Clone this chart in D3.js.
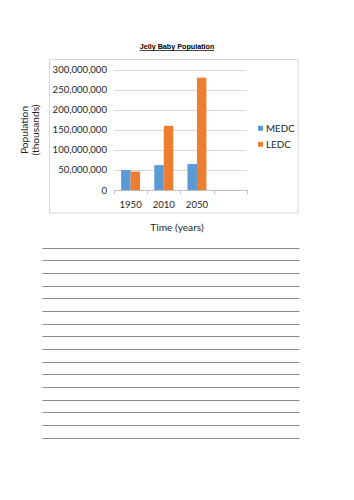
<!DOCTYPE html>
<html>
<head>
<meta charset="utf-8">
<script src="https://cdn.jsdelivr.net/npm/d3@7"></script>
<style>
  html, body { margin: 0; padding: 0; background: #fff; }
  svg { display: block; }
</style>
</head>
<body>
<svg id="chart" width="354" height="500"></svg>
<script>
// ---- data ----
const title = "Jelly Baby Population";
const categories = ["1950", "2010", "2050", ""];
const seriesNames = ["MEDC", "LEDC"];
const medc = [50000000, 62000000, 65000000, null];
const ledc = [46000000, 160000000, 280000000, null];
const yTicks = [0, 50000000, 100000000, 150000000, 200000000, 250000000, 300000000];
const yTitle = ["Population", "(thousands)"];
const xTitle = "Time (years)";
const writingLineCount = 16;

// ---- layout ----
const svg = d3.select("#chart");
const colors = { MEDC: "#5B9BD5", LEDC: "#ED7D31" };
const font = "Lato, 'Open Sans', sans-serif";
const textColor = "#262626";

const plot = { left: 114, right: 246.7, top: 69.7, bottom: 190 };

const x0 = d3.scaleBand().domain(categories).range([plot.left, plot.right]).paddingInner(0).paddingOuter(0);
const bw = x0.bandwidth();
const barW = bw / 3.5;
const x1 = d3.scaleBand().domain(seriesNames).range([barW * 0.75, bw - barW * 0.75]).padding(0);
const y = d3.scaleLinear().domain([0, 300000000]).range([plot.bottom, plot.top]);

// title
svg.append("text")
  .attr("x", 177).attr("y", 49)
  .attr("text-anchor", "middle")
  .attr("font-family", "'Liberation Sans', Arial, sans-serif")
  .attr("font-weight", "bold")
  .attr("font-size", 7.2)
  .attr("text-decoration", "underline")
  .attr("fill", "#000")
  .text(title);

// chart box
svg.append("rect")
  .attr("x", 49.5).attr("y", 59.5)
  .attr("width", 248.5).attr("height", 153.5)
  .attr("fill", "none").attr("stroke", "#d9d9d9").attr("stroke-width", 1);

// gridlines
svg.append("g").selectAll("line").data(yTicks.filter(d => d > 0)).join("line")
  .attr("x1", plot.left).attr("x2", plot.right)
  .attr("y1", d => Math.round(y(d)) + 0.5).attr("y2", d => Math.round(y(d)) + 0.5)
  .attr("stroke", "#d9d9d9").attr("stroke-width", 1);

// y axis labels
const fmt = d3.format(",");
svg.append("g").selectAll("text").data(yTicks).join("text")
  .attr("x", 107).attr("y", d => y(d) + 3.5)
  .attr("text-anchor", "end")
  .attr("font-family", font).attr("font-size", 9.6)
  .attr("fill", textColor)
  .text(d => fmt(d));

// bars
const data = categories.map((c, i) => ({ cat: c, values: [
  { name: "MEDC", v: medc[i] }, { name: "LEDC", v: ledc[i] } ] }));
const groups = svg.append("g").selectAll("g").data(data).join("g")
  .attr("transform", d => `translate(${x0(d.cat)},0)`);
groups.selectAll("rect").data(d => d.values.filter(v => v.v != null)).join("rect")
  .attr("x", d => x1(d.name))
  .attr("width", x1.bandwidth())
  .attr("y", d => y(d.v))
  .attr("height", d => y(0) - y(d.v))
  .attr("fill", d => colors[d.name]);

// x axis
const xAxis = d3.axisBottom(x0).tickSize(0).tickFormat(d => d);
const gx = svg.append("g").attr("transform", `translate(0,${plot.bottom})`).call(xAxis);
gx.select(".domain").attr("stroke", "#bfbfbf").attr("d", `M${plot.left},0.5H${plot.right}`);
gx.selectAll("text").attr("font-family", font).attr("font-size", 9.6).attr("fill", textColor).attr("dy", 0).attr("y", 17.5);
// category boundary ticks
const bounds = categories.map(c => x0(c)).concat([plot.right]);
svg.append("g").selectAll("line").data(bounds).join("line")
  .attr("x1", d => Math.round(d) + 0.5).attr("x2", d => Math.round(d) + 0.5)
  .attr("y1", plot.bottom).attr("y2", plot.bottom + 4)
  .attr("stroke", "#bfbfbf");

// axis titles
const yt = svg.append("text")
  .attr("transform", "translate(29,130) rotate(-90)")
  .attr("text-anchor", "middle")
  .attr("font-family", font).attr("font-size", 10.2)
  .attr("fill", textColor);
yTitle.forEach((s, i) => yt.append("tspan").attr("x", 0).attr("y", i === 0 ? -1.5 : 9.5).text(s));

svg.append("text")
  .attr("x", 177).attr("y", 231)
  .attr("text-anchor", "middle")
  .attr("font-family", font).attr("font-size", 10.2)
  .attr("fill", textColor)
  .text(xTitle);

// legend
const lg = svg.append("g").selectAll("g").data(seriesNames).join("g")
  .attr("transform", (d, i) => `translate(258,${128.3 + i * 16})`);
lg.append("rect").attr("x", 0).attr("y", -2.5).attr("width", 5).attr("height", 5)
  .attr("fill", d => colors[d]);
lg.append("text").attr("x", 8).attr("y", 3.4)
  .attr("font-family", font).attr("font-size", 9.8).attr("fill", textColor)
  .text(d => d);

// writing lines
const lineY = d3.scaleLinear().domain([0, writingLineCount - 1]).range([247.5, 437.5]);
svg.append("g").selectAll("line").data(d3.range(writingLineCount)).join("line")
  .attr("x1", 42.5).attr("x2", 299.5)
  .attr("y1", d => Math.round(lineY(d)) + 0.5).attr("y2", d => Math.round(lineY(d)) + 0.5)
  .attr("stroke", "#8c8c8c").attr("stroke-width", 1.2);
</script>
</body>
</html>
